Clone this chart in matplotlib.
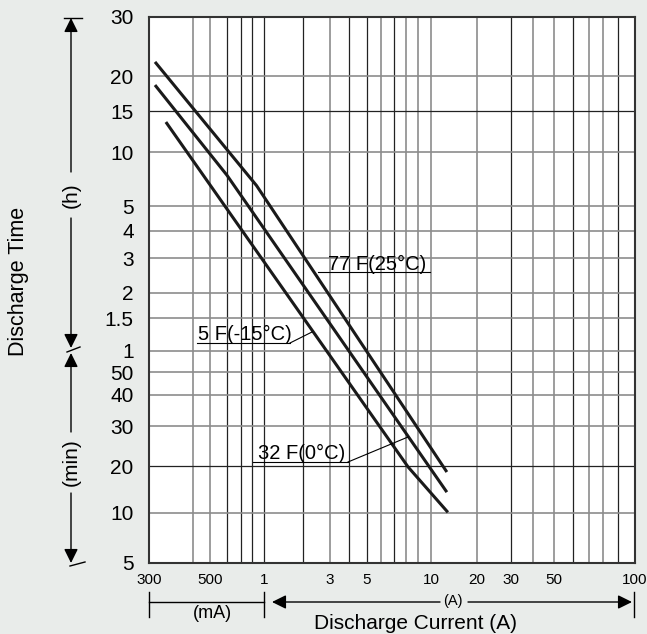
import numpy as np
import matplotlib
matplotlib.use('Agg')
import matplotlib.pyplot as plt
from matplotlib.lines import Line2D

plt.rcParams['font.family'] = ['Liberation Sans', 'DejaVu Sans']

# discharge current (A) vs discharge time (min), one curve per temperature
current_77f = [0.312, 0.87, 12.7]
time_77f = [1322, 390, 18.3]
current_32f = [0.312, 0.6, 12.7]
time_32f = [1114, 445, 13.6]
current_5f = [0.335, 8.17, 12.9]
time_5f = [807, 19.7, 10.1]

x_ticks = [0.3, 0.5, 1, 3, 5, 10, 20, 30, 50, 100]
x_labels = ['300', '500', '1', '3', '5', '10', '20', '30', '50', '100']
y_ticks = [5, 10, 20, 30, 40, 50, 60, 90, 120, 180, 240, 300, 600, 900, 1200, 1800]
y_labels = ['5', '10', '20', '30', '40', '50', '1', '1.5', '2', '3', '4', '5', '10', '15', '20', '30']

x_grid = [0.4, 0.5, 0.6, 0.7, 0.8, 1, 2, 3, 4, 5, 6, 7, 8, 9, 10, 20, 30, 40, 50, 60, 70, 80, 90]
y_grid = [5, 10, 20, 30, 40, 50, 60, 90, 120, 180, 240, 300, 600, 900, 1200]
x_dark = [0.6, 0.7, 0.8, 1, 2, 4, 5, 7, 30, 60, 90]
y_dark = [20, 900]

# the printed grid is not a true log grid: calibrate it
x_cal = [0.3, 0.4, 0.5, 0.6, 0.7, 0.8, 1, 2, 3, 4, 5, 6, 7, 8, 9, 10, 20, 30, 40, 50, 60, 70, 80, 90, 100]
x_cal_px = [149, 193, 210, 227, 241, 252, 264, 303, 330, 349, 367, 381, 394, 406, 418, 431, 477, 511, 533, 554, 573, 589, 603, 618, 635]
y_cal = [5, 10, 20, 30, 40, 50, 60, 90, 120, 180, 240, 300, 600, 900, 1200, 1800]
y_cal_px = [563, 513, 466, 426, 395, 372, 351, 318, 293, 258, 231, 206, 152, 111, 76, 17]

W, H = 647, 634
L, R, T, B = 149, 635, 17, 563


def make_scale(vals, fr):
    lv = np.log10(vals)
    fr = np.asarray(fr, float)

    def fwd(v):
        v = np.asarray(v, float)
        return np.interp(np.log10(np.clip(v, 1e-6, None)), lv, fr)

    def inv(f):
        return 10 ** np.interp(f, fr, lv)
    return fwd, inv


def fp(x, y):
    return (x / W, 1 - y / H)


fig = plt.figure(figsize=(W / 100, H / 100), dpi=100)
fig.patch.set_facecolor('#e9ecea')
ax = fig.add_axes([L / W, 1 - B / H, (R - L) / W, (B - T) / H])
ax.set_facecolor('white')

ax.set_xscale('function', functions=make_scale(x_cal, (np.array(x_cal_px) - L) / (R - L)))
ax.set_yscale('function', functions=make_scale(y_cal, (B - np.array(y_cal_px)) / (B - T)))
ax.set_xlim(0.3, 100)
ax.set_ylim(5, 1800)

for v in x_grid:
    dark = v in x_dark
    ax.axvline(v, color='#222222' if dark else '#8c8c8c', lw=0.9 if dark else 1.2, zorder=1)
for v in y_grid:
    dark = v in y_dark
    ax.axhline(v, color='#222222' if dark else '#8c8c8c', lw=0.9 if dark else 1.2, zorder=1)

for cx, ty in [(current_77f, time_77f), (current_32f, time_32f), (current_5f, time_5f)]:
    ax.plot(cx, ty, color='#1a1a1a', lw=2.2, zorder=3, solid_capstyle='butt')

ax.set_xticks(x_ticks)
ax.set_xticklabels(x_labels, fontsize=11)
ax.set_yticks(y_ticks)
ax.set_yticklabels(y_labels, fontsize=15)
ax.xaxis.set_minor_locator(matplotlib.ticker.NullLocator())
ax.yaxis.set_minor_locator(matplotlib.ticker.NullLocator())
ax.tick_params(axis='x', length=0, pad=7)
ax.tick_params(axis='y', length=0, pad=11)
for s in ax.spines.values():
    s.set_color('#333333')
    s.set_linewidth(1.5)


def line(p, q, lw=1.0):
    fig.add_artist(Line2D([p[0] / W, q[0] / W], [1 - p[1] / H, 1 - q[1] / H],
                          transform=fig.transFigure, color='black', lw=lw))


def arrow(base, tip):
    ax.annotate('', xy=fp(*tip), xytext=fp(*base), xycoords='figure fraction',
                textcoords='figure fraction', annotation_clip=False,
                arrowprops=dict(arrowstyle='-|>,head_length=0.85,head_width=0.42',
                                color='black', lw=1.0, shrinkA=0, shrinkB=0))


def label(x, y, s, size, **kw):
    fig.text(x / W, 1 - y / H, s, fontsize=size, **kw)


# curve labels with underline and leader
label(328, 270, '77 F(25°C)', 14.5, ha='left', va='baseline')
line((318, 272), (430, 272), 0.8)
label(198, 340, '5 F(-15°C)', 14.5, ha='left', va='baseline')
line((197, 343), (290, 343), 0.8)
line((290, 343), (312, 332), 0.8)
label(258, 459, '32 F(0°C)', 14.5, ha='left', va='baseline')
line((253, 462), (348, 462), 0.8)
line((348, 462), (408, 437), 0.8)

# time unit brackets
line((64, 18), (82, 18))
arrow((71, 172), (71, 18))
label(71, 195, '(h)', 15, ha='center', va='center', rotation=90)
arrow((71, 218), (71, 348))
line((67, 352), (80, 347))
arrow((71, 432), (71, 353))
label(71, 462, '(min)', 15, ha='center', va='center', rotation=90)
arrow((71, 493), (71, 563))
line((70, 566), (85, 562))
label(19, 281, 'Discharge Time', 15.5, ha='center', va='center', rotation=90)

# current unit brackets
line((149, 592), (149, 617))
line((264, 592), (264, 617))
line((634, 592), (634, 617))
line((149, 602), (264, 602))
label(212, 614, '(mA)', 13, ha='center', va='center')
arrow((440, 602), (272, 602))
label(453, 601, '(A)', 10.5, ha='center', va='center')
arrow((468, 602), (632, 602))
label(416, 629, 'Discharge Current (A)', 15, ha='center', va='baseline')

fig.savefig('out.png', dpi=100, facecolor=fig.get_facecolor())
